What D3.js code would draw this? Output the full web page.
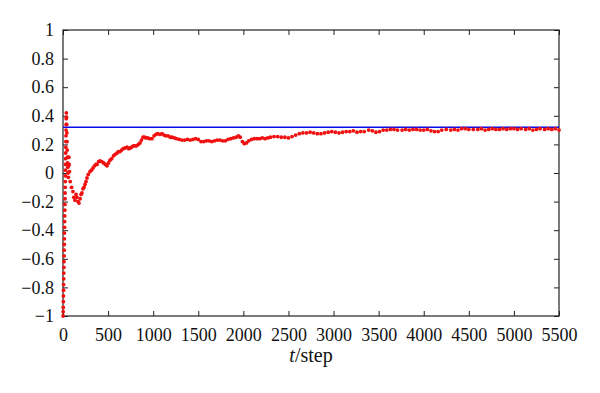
<!DOCTYPE html>
<html>
<head>
<meta charset="utf-8">
<script src="https://cdn.jsdelivr.net/npm/d3@7"></script>
<style>
  body { margin: 0; background: #fff; }
  text { font-family: "Liberation Serif", "DejaVu Serif", serif; }
</style>
</head>
<body>
<div id="chart"></div>
<script>
// step numbers and estimated values
var steps = [1,2,3,4,5,6,7,8,9,10,11,12,13,14,15,16,17,18,19,20,21,22,23,24,25,26,27,28,29,30,31,32,33,34,35,36,37,
  39,41,43,45,47,49,51,53,56,59,62,65,68,72,
  80,95,110,120,133,145,155,167,177,190,200,210,222,233,244,255,266,280,300,315,333,350,365,377,395,410,430,450,470,488,
  505,521,540,560,577,600,615,632,650,668,688,710,730,743,760,780,798,815,835,854,870,887,905,920,940,960,987,
  1010,1030,1050,1075,1098,1120,1140,1165,1190,1210,1235,1260,1290,1320,1350,1380,1410,1440,1470,1500,1530,1560,1590,
  1620,1650,1680,1710,1740,1770,1800,1830,1860,1890,1920,1945,1965,1990,2010,2035,2060,2090,2120,2150,2180,2210,2240,
  2270,2300,2340,2380,2420,2460,2500,2540,2580,2620,2660,2700,2740,2780,2820,2860,2900,2940,2980,3020,3060,3100,3140,
  3180,3220,3260,3300,3340,3390,3430,3470,3510,3550,3590,3630,3670,3710,3760,3800,3840,3880,3920,3960,4000,4040,4080,
  4120,4160,4200,4250,4300,4340,4380,4420,4460,4500,4550,4600,4640,4680,4720,4760,4800,4840,4880,4920,4960,5000,5040,
  5080,5130,5170,5210,5250,5290,5340,5380,5420,5460,5500];
var values = [-1,-0.97,-0.94,-0.9,-0.86,-0.82,-0.78,-0.74,-0.7,-0.66,-0.62,-0.58,-0.54,-0.5,-0.46,-0.42,-0.38,-0.34,-0.3,-0.26,-0.22,-0.18,-0.14,-0.1,-0.06,-0.02,0.02,0.06,0.1,0.14,0.18,0.22,0.26,0.3,0.34,0.38,0.42,
  0.39,0.34,0.28,0.22,0.16,0.11,0.07,0.04,0.0,-0.03,0.05,0.11,0.06,0.01,
  -0.06,-0.1,-0.13,-0.17,-0.19,-0.15,-0.17,-0.2,-0.21,-0.18,-0.15,-0.14,-0.11,-0.1,-0.08,-0.06,-0.035,-0.01,0.01,0.02,0.035,0.05,0.06,0.06,0.08,0.085,0.08,0.07,0.06,0.05,
  0.07,0.09,0.1,0.12,0.13,0.14,0.15,0.15,0.16,0.17,0.175,0.18,0.17,0.175,0.18,0.19,0.19,0.19,0.2,0.21,0.23,0.25,0.25,0.245,0.245,0.24,0.24,
  0.26,0.27,0.275,0.27,0.275,0.265,0.26,0.26,0.25,0.25,0.245,0.24,0.235,0.23,0.23,0.235,0.23,0.235,0.24,0.235,0.22,0.22,0.225,
  0.225,0.22,0.225,0.23,0.23,0.225,0.225,0.235,0.24,0.245,0.25,0.26,0.25,0.22,0.205,0.21,0.225,0.235,0.24,0.24,0.24,0.245,0.24,
  0.245,0.25,0.255,0.255,0.25,0.25,0.245,0.255,0.265,0.275,0.28,0.28,0.285,0.28,0.275,0.275,0.28,0.285,0.29,0.285,0.28,0.285,0.29,
  0.29,0.295,0.285,0.29,0.29,0.3,0.295,0.285,0.29,0.3,0.3,0.305,0.305,0.3,0.3,0.305,0.3,0.305,0.305,0.3,0.3,0.305,0.295,
  0.29,0.29,0.3,0.305,0.3,0.305,0.3,0.31,0.31,0.305,0.305,0.305,0.31,0.3,0.305,0.31,0.305,0.305,0.31,0.305,0.31,0.31,0.305,
  0.31,0.305,0.31,0.3,0.305,0.31,0.305,0.31,0.305,0.31,0.3];
var reference = 0.32;
var xTicks = [0,500,1000,1500,2000,2500,3000,3500,4000,4500,5000,5500];
var yTicks = [-1,-0.8,-0.6,-0.4,-0.2,0,0.2,0.4,0.6,0.8,1];

var width = 600, height = 393;
var margin = {top: 30, right: 41, bottom: 77, left: 63};

var svg = d3.select("#chart").append("svg")
    .attr("width", width)
    .attr("height", height);

var x = d3.scaleLinear().domain([0, 5500]).range([margin.left, width - margin.right]);
var y = d3.scaleLinear().domain([-1, 1]).range([height - margin.bottom, margin.top]);

var fmt = function (d) { return d3.format("")(d).replace("-", "\u2212"); };

// axes with inward ticks on all four sides
svg.append("g")
    .attr("transform", "translate(0," + y(-1) + ")")
    .call(d3.axisBottom(x).tickValues(xTicks).tickSizeInner(-5).tickSizeOuter(0).tickPadding(12).tickFormat(d3.format("d")))
    .call(g => g.select(".domain").remove());
svg.append("g")
    .attr("transform", "translate(0," + y(1) + ")")
    .call(d3.axisTop(x).tickValues(xTicks).tickSizeInner(-5).tickSizeOuter(0).tickFormat(""))
    .call(g => g.select(".domain").remove());
svg.append("g")
    .attr("transform", "translate(" + x(0) + ",0)")
    .call(d3.axisLeft(y).tickValues(yTicks).tickSizeInner(-5).tickSizeOuter(0).tickPadding(9).tickFormat(fmt))
    .call(g => g.select(".domain").remove());
svg.append("g")
    .attr("transform", "translate(" + x(5500) + ",0)")
    .call(d3.axisRight(y).tickValues(yTicks).tickSizeInner(-5).tickSizeOuter(0).tickFormat(""))
    .call(g => g.select(".domain").remove());

svg.selectAll(".tick text")
    .attr("fill", "#111")
    .style("font-size", "18px");
svg.selectAll(".tick line").attr("stroke", "#222");

// frame
svg.append("rect")
    .attr("x", x(0))
    .attr("y", y(1))
    .attr("width", x(5500) - x(0))
    .attr("height", y(-1) - y(1))
    .attr("fill", "none")
    .attr("stroke", "#222")
    .attr("stroke-width", 1.2);

// reference line
svg.append("line")
    .attr("x1", x(0))
    .attr("x2", x(5500))
    .attr("y1", y(reference))
    .attr("y2", y(reference))
    .attr("stroke", "#0a0ae8")
    .attr("stroke-width", 1.3);

// data points
svg.append("g")
    .selectAll("circle")
    .data(steps)
    .join("circle")
    .attr("cx", d => x(d))
    .attr("cy", (d, i) => y(values[i]))
    .attr("r", 1.9)
    .attr("fill", "#f01010");

// axis title
var title = svg.append("text")
    .attr("x", (x(0) + x(5500)) / 2)
    .attr("y", 362)
    .attr("text-anchor", "middle")
    .style("font-size", "20px")
    .attr("fill", "#111");
title.append("tspan").style("font-style", "italic").text("t");
title.append("tspan").text("/step");
</script>
</body>
</html>
